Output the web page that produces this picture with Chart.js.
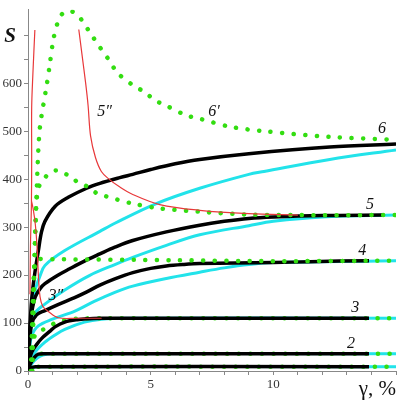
<!DOCTYPE html>
<html>
<head>
<meta charset="utf-8">
<script src="https://cdn.jsdelivr.net/npm/chart.js@4.4.0/dist/chart.umd.min.js"></script>
<style>
html, body { margin: 0; padding: 0; background: #fff; }
</style>
</head>
<body>
<canvas id="myChart" width="398" height="400"></canvas>
<script>
//------------------------------------------------------//
// curve data, [gamma %, S]
const black1 = [[0,0],[0.1,6],[0.3,9],[13.9,9]]
const black2 = [[0,0],[0.1,15],[0.25,28],[0.42,35],[0.7,36],[13.9,36]]
const black3 = [[0,0],[0.05,20],[0.15,39],[0.35,55],[0.56,68],[0.9,83],[1.1,92],[1.5,102],[2,107],[2.5,109],[3,110],[13.9,110]]
const black4 = [[0,0],[0.05,50],[0.15,98],[0.35,117],[0.69,126],[1.2,138],[1.9,153],[2.4,165],[2.93,179],[3.54,192],[4.27,205],[5,214],[5.64,219],[6.3,222],[7,224],[10,226],[11.5,228],[13.9,230]]
const black5 = [[0,0],[0.05,60],[0.12,110],[0.28,152],[0.5,172],[0.69,182],[1.2,199],[1.7,213],[2.3,229],[2.93,244],[3.54,258],[4.27,272],[5.64,290],[7,304],[8,312],[9,318],[10,321],[12,324],[14.45,325]]
const black6 = [[0,0],[0.05,60],[0.15,150],[0.28,205],[0.42,250],[0.55,290],[0.69,312],[1.1,343],[1.64,362],[2.39,381],[2.93,391],[3.74,403],[4.27,410],[5,420],[6,432],[7,441],[9,453],[12.3,467],[15,473]]

const cyan1 = [[0,0],[0.15,6],[0.4,9],[15,9]]
const cyan2 = [[0,0],[0.15,15],[0.35,26],[0.6,33],[1,36],[15,36]]
const cyan3 = [[0,0],[0.1,20],[0.3,40],[0.69,60],[1.1,75],[1.5,87],[2.3,102],[3,108],[4,110],[15,110]]
const cyan4 = [[0,0],[0.05,40],[0.15,73],[0.42,94],[1,108],[1.91,125],[2.7,145],[3.54,164],[4.27,177],[5.64,193],[7,206],[8,215],[9,222],[10,226],[15,230]]
const cyan5 = [[0,0],[0.05,50],[0.15,100],[0.28,121],[0.7,140],[1.5,169],[2.5,199],[3.54,222],[4.27,237],[5.64,262],[7,284],[9,303],[10,312],[12,321],[15,325]]
const cyan6 = [[0,0],[0.05,50],[0.15,120],[0.3,170],[0.49,198],[0.69,220],[1.5,251],[2.93,291],[3.54,308],[5.23,349],[7,381],[9,410],[9.62,416],[12.3,441],[15,461]]

const green1 = [[0.03,0],[0.15,8],[0.3,9],[15,9]]
const green2 = [[0.05,0],[0.2,25],[0.4,35],[0.7,36],[15,36]]
const green3 = [[0.1,0],[0.2,60],[0.35,80],[0.69,88],[1.1,100],[1.5,106],[2,109],[3,110],[15,110]]
const green4 = [[0.12,0],[0.2,150],[0.28,225],[0.4,233],[1,233],[6,231],[10,229],[15,230]]
const green5 = [[0.18,0],[0.25,200],[0.3,300],[0.35,355],[0.45,385],[0.69,403],[0.96,416],[1.2,418],[1.37,413],[1.77,406],[2.04,392],[2.45,384],[2.79,371],[3.13,365],[3.6,358],[4.27,349],[5.37,339],[7,332],[9,326],[11,325],[15,325]]
const green6 = [[0.15,0],[0.25,200],[0.33,340],[0.42,460],[0.49,510],[0.62,553],[0.76,595],[0.89,640],[1.03,690],[1.2,725],[1.37,743],[1.6,750],[1.78,750],[2.05,740],[2.24,728],[2.52,706],[2.93,675],[3.25,652],[3.66,621],[4.27,596],[4.67,584],[5.23,563],[5.64,553],[6.45,533],[7,526],[8.25,509],[9.62,500],[12.3,488],[15,482]]

const red3a = [[0.28,711],[0.2,620],[0.15,550],[0.15,450],[0.14,350],[0.1,260],[0.08,160]]
const red3 = [[0.14,355],[0.22,335],[0.3,305],[0.38,250],[0.42,202],[0.49,155],[0.6,135],[0.83,124],[1.23,111],[2,110],[3,110]]
const red5 = [[2.07,712],[2.2,660],[2.35,600],[2.45,553],[2.55,490],[2.75,445],[2.99,416],[3.3,400],[3.7,385],[4.27,368],[5.37,347],[7,335],[9,328],[11,325]]

// curve labels and where they sit (gamma, S)
const curveLabels = ["6\u2032", "6", "5\u2033", "5", "4", "3", "2", "3\u2033"]
const labelX = [7.58, 14.43, 3.12, 13.94, 13.62, 13.34, 13.17, 1.13]
const labelY = [540, 505, 540, 347, 250, 132, 57, 156]

const xMax = 15
const yMax = 753

//------------------------------------------------------//
const toXY = (arr) => arr.map(p => ({x: p[0], y: p[1]}))

const solid = (data, color, width, order) => ({
    data: toXY(data), borderColor: color, borderWidth: width,
    pointRadius: 0, tension: 0.35, fill: false, order: order
})

const dotted = (data, order) => ({
    data: toXY(data), borderColor: '#33dd11', borderWidth: 4.5,
    borderDash: [0.1, 11.5], borderCapStyle: 'round',
    pointRadius: 0, tension: 0.3, fill: false, order: order
})

const CYAN = '#22e3ea'
const RED = '#e8383a'

const datasets = [
    solid(red3a, RED, 1.2, 0),
    solid(red3, RED, 1.2, 0),
    solid(red5, RED, 1.2, 0),
    dotted(green6, 1),
    dotted(green5, 1),
    dotted(green4, 1),
    solid(black1, '#000', 3.5, 2),
    solid(black2, '#000', 3.5, 2),
    solid(black3, '#000', 3.5, 2),
    solid(black4, '#000', 3.5, 2),
    solid(black5, '#000', 3.5, 2),
    solid(black6, '#000', 3.5, 2),
    dotted(green3, 3),
    dotted(green2, 3),
    dotted(green1, 3),
    solid(cyan1, CYAN, 3, 4),
    solid(cyan2, CYAN, 3, 4),
    solid(cyan3, CYAN, 3, 4),
    solid(cyan4, CYAN, 3, 4),
    solid(cyan5, CYAN, 3, 4),
    solid(cyan6, CYAN, 3, 4)
]

// text on the plot: curve numbers and axis names
const textPlugin = {
    id: 'curveText',
    afterDraw(chart) {
        const ctx = chart.ctx
        const x = chart.scales.x
        const y = chart.scales.y
        ctx.save()
        ctx.fillStyle = '#111'
        ctx.textAlign = 'center'
        ctx.textBaseline = 'middle'
        ctx.font = 'italic 16px "Liberation Serif"'
        for (let i in curveLabels) {
            ctx.fillText(curveLabels[i], x.getPixelForValue(labelX[i]), y.getPixelForValue(labelY[i]))
        }
        ctx.font = 'italic bold 21px "Liberation Serif"'
        ctx.fillText('S', x.left - 18, y.getPixelForValue(698))
        ctx.font = '21px "Liberation Serif"'
        ctx.textAlign = 'right'
        ctx.textBaseline = 'alphabetic'
        ctx.fillText('\u03b3, %', x.right, chart.height - 5)
        ctx.restore()
    }
}

const tickFont = {family: 'Liberation Serif', size: 13}

var ctx = document.getElementById('myChart').getContext('2d');
var chart = new Chart(ctx, {
    type: 'line',
    data: { datasets: datasets },
    plugins: [textPlugin],
    options: {
        responsive: false,
        animation: false,
        layout: { padding: 0 },
        plugins: { legend: { display: false }, tooltip: { enabled: false } },
        scales: {
            x: {
                type: 'linear', min: 0, max: xMax,
                afterFit: (s) => { s.height = 29 },
                afterBuildTicks: (s) => { s.ticks = s.ticks.filter(t => t.value % 1 === 0) },
                ticks: {
                    stepSize: 1, autoSkip: false, maxRotation: 0, padding: 2,
                    color: '#333', font: tickFont,
                    callback: (v) => (v % 5 === 0 && v < xMax) ? String(v) : ''
                },
                grid: { drawOnChartArea: false, tickLength: 4, color: '#888' },
                border: { color: '#888' }
            },
            y: {
                type: 'linear', min: 0, max: yMax,
                afterFit: (s) => { s.width = 28 },
                afterBuildTicks: (s) => { s.ticks = s.ticks.filter(t => t.value % 50 === 0) },
                ticks: {
                    stepSize: 50, autoSkip: false, padding: 2,
                    color: '#333', font: tickFont,
                    callback: (v) => (v % 100 === 0 && v < 700) ? String(v) : ''
                },
                grid: { drawOnChartArea: false, tickLength: 4, color: '#888' },
                border: { color: '#888' }
            }
        }
    }
});
</script>
</body>
</html>
